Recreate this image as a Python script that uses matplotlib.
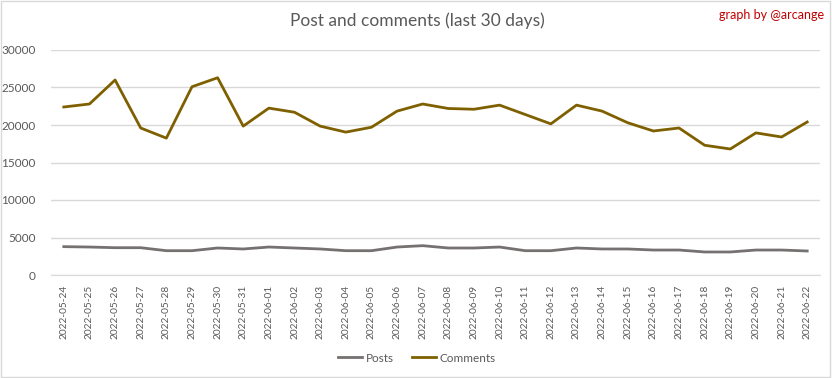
import matplotlib.pyplot as plt
import pandas as pd

dates = pd.date_range('2022-05-24', '2022-06-22').strftime('%Y-%m-%d').tolist()

posts = [3780, 3730, 3640, 3640, 3240, 3240, 3600, 3470, 3730, 3600,
         3470, 3240, 3240, 3730, 3910, 3600, 3600, 3730, 3240, 3240,
         3600, 3470, 3470, 3330, 3330, 3070, 3070, 3330, 3330, 3200]
comments = [22400, 22800, 26000, 19600, 18250, 25100, 26300, 19850, 22250, 21700,
            19850, 19050, 19700, 21850, 22800, 22200, 22100, 22650, 21400, 20150,
            22650, 21850, 20300, 19200, 19600, 17300, 16800, 18950, 18400, 20400]

plt.rcParams['font.family'] = ['Lato', 'DejaVu Sans']
grey = '#595959'

fig = plt.figure(figsize=(8.32, 3.78), dpi=100)
ax = fig.add_axes([51/832, 1-275/378, 769/832, 225/378])

x = range(len(dates))
ax.plot(x, posts, color='#767171', lw=2.0, label='Posts')
ax.plot(x, comments, color='#7F6000', lw=2.0, label='Comments')

ax.set_xlim(-0.5, len(dates)-0.5)
ax.set_ylim(0, 30000)
ax.set_yticks(range(0, 30001, 5000))
ax.set_xticks(list(x))
ax.set_xticklabels(dates, rotation=90)
ax.tick_params(length=0, colors=grey)
ax.tick_params(axis='x', labelsize=7.3, pad=7)
ax.tick_params(axis='y', labelsize=8.5, pad=11)
ax.grid(axis='y', color='#D9D9D9', lw=1)
ax.set_axisbelow(True)
for s in ax.spines.values():
    s.set_visible(False)
ax.spines['bottom'].set_visible(True)
ax.spines['bottom'].set_color('#D9D9D9')

fig.text(417/832, 1-21/378, 'Post and comments (last 30 days)', ha='center', va='center',
         fontsize=12.5, color=grey)
fig.text(824/832, 1-15/378, 'graph by @arcange', ha='right', va='center',
         fontsize=9, color='#C00000')

fig.legend(loc='center', bbox_to_anchor=(417/832, 1-358/378), ncol=2, frameon=False,
           fontsize=8.5, labelcolor=grey, handlelength=2.0, handletextpad=0.3,
           columnspacing=1.6)

fig.patches.append(plt.Rectangle((0.001, 0.002), 0.997, 0.995, transform=fig.transFigure,
                                 fill=False, edgecolor='#D9D9D9', lw=1))

fig.savefig('out.png', dpi=100)
